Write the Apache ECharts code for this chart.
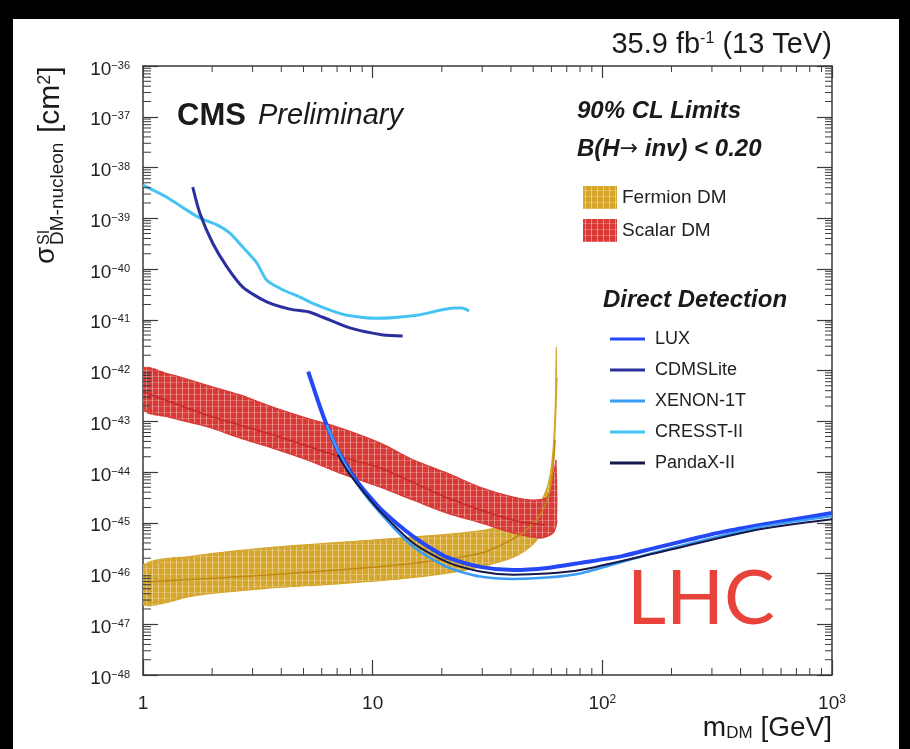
<!DOCTYPE html>
<html>
<head>
<meta charset="utf-8">
<script src="https://cdn.jsdelivr.net/npm/echarts@6.0.0/dist/echarts.min.js"></script>
<style>
html, body { margin: 0; padding: 0; background: #000; }
#main { width: 910px; height: 749px; }
</style>
</head>
<body>
<div id="main"></div>
<script>
var FONT = '"Liberation Sans", Arial, sans-serif';

// axis tick labels
var xTicks = [1, 10, 100, 1000];
var xTickLabels = ['1', '10', '10{s|2}', '10{s|3}'];
var yDecades = [-48, -47, -46, -45, -44, -43, -42, -41, -40, -39, -38, -37, -36];

// Scalar DM band (red)
var scalarUpM = [1.0, 1.35, 1.9, 2.64, 3.67, 5.16, 7.2, 10.8, 15.0, 21.1, 29.4, 40.9, 50.0, 57.5, 60.5, 63.0];
var scalarUpS = [1.12e-42, 8.1e-43, 5.1e-43, 3.3e-43, 1.9e-43, 1.15e-43, 7.4e-44, 3.7e-44, 1.74e-44, 9.5e-45, 5.0e-45, 3.2e-45, 2.8e-45, 3.2e-45, 6.9e-45, 1.74e-44];
var scalarLoM = [1.0, 1.35, 1.9, 2.64, 3.67, 5.16, 7.2, 10.8, 15.0, 21.1, 29.4, 40.9, 53.6, 61.1, 63.5];
var scalarLoS = [1.66e-43, 1.15e-43, 7.8e-44, 4.7e-44, 2.95e-44, 1.74e-44, 9.5e-45, 5.0e-45, 2.8e-45, 1.55e-45, 1.0e-45, 6.3e-46, 5.0e-46, 6.3e-46, 1.12e-45];
var scalarMidM = [1.0, 1.9, 3.67, 7.2, 10.8, 21.1, 40.9, 56.0];
var scalarMidS = [3.8e-43, 1.32e-43, 5.4e-44, 2.0e-44, 1.2e-44, 3.1e-45, 1.12e-45, 9.1e-46];

// Fermion DM band (gold)
var fermionUpM = [1.0, 1.77, 3.46, 6.73, 13.1, 24.8, 34.8, 43.8, 52.0, 57.5, 60.5, 62.3, 63.0];
var fermionUpS = [1.48e-46, 2.3e-46, 3.2e-46, 4.0e-46, 5.0e-46, 6.3e-46, 7.9e-46, 1.12e-45, 2.0e-45, 5.0e-45, 1.74e-44, 1.66e-43, 2.9e-42];
var fermionLoM = [1.0, 1.77, 3.46, 6.73, 13.1, 21.1, 29.4, 40.9, 50.0, 55.2, 59.3, 62.3, 63.5];
var fermionLoS = [2.4e-47, 3.8e-47, 5.1e-47, 6.2e-47, 7.8e-47, 1.02e-46, 1.35e-46, 2.1e-46, 3.8e-46, 7.9e-46, 2.24e-45, 6.8e-44, 7.4e-43];
var fermionMidM = [1.0, 3.46, 13.1, 29.4, 43.8, 53.6, 59.3, 62.3];
var fermionMidS = [6.8e-47, 9.3e-47, 1.48e-46, 2.5e-46, 5.8e-46, 1.41e-45, 4.5e-45, 4.3e-44];

// direct detection limits
var luxM = [5.24, 5.51, 5.79, 6.11, 6.52, 6.97, 7.45, 8.1, 8.81, 9.73, 10.8, 12.7, 15.0, 17.8, 21.0, 29.4, 40.9, 57.5, 80.2, 122, 170, 237, 334, 465, 647, 1000];
var luxS = [9.5e-43, 4.8e-43, 2.45e-43, 1.23e-43, 5.8e-44, 2.95e-44, 1.74e-44, 9.3e-45, 5.5e-45, 3.2e-45, 1.9e-45, 9.8e-46, 5.4e-46, 3.2e-46, 2.1e-46, 1.35e-46, 1.17e-46, 1.29e-46, 1.62e-46, 2.2e-46, 3.2e-46, 4.6e-46, 6.6e-46, 8.7e-46, 1.12e-45, 1.55e-45];
var cdmsM = [1.647, 1.767, 2.01, 2.32, 2.72, 3.46, 4.36, 5.33, 6.07, 7.96, 11.1, 13.5];
var cdmsS = [4.1e-39, 1.27e-39, 3.25e-40, 1.1e-40, 4.4e-41, 2.24e-41, 1.62e-41, 1.41e-41, 1.12e-41, 6.9e-42, 5.0e-42, 4.8e-42];
var xenonM = [6.3, 7.2, 8.51, 10.8, 15.0, 21.0, 29.4, 41.0, 57.4, 80.1, 170, 465, 1000];
var xenonS = [8.5e-44, 2.2e-44, 6.0e-45, 1.55e-45, 3.4e-46, 1.35e-46, 8.7e-47, 7.8e-47, 8.3e-47, 1.0e-46, 2.6e-46, 7.9e-46, 1.35e-45];
var cresstM = [1.0, 1.27, 1.55, 1.77, 2.1, 2.39, 2.72, 3.13, 3.46, 4.06, 4.82, 5.49, 6.52, 7.72, 10.4, 15.6, 22.8, 24.5, 26.3];
var cresstS = [4.5e-39, 2.6e-39, 1.45e-39, 1.01e-39, 7.4e-40, 5.1e-40, 2.7e-40, 1.32e-40, 6.0e-41, 3.9e-41, 2.8e-41, 2.1e-41, 1.55e-41, 1.23e-41, 1.07e-41, 1.23e-41, 1.7e-41, 1.7e-41, 1.48e-41];
var pandaM = [7.06, 7.71, 9.1, 10.8, 15.0, 21.0, 29.4, 41.0, 57.4, 80.1, 170, 465, 1000];
var pandaS = [2.2e-44, 1.1e-44, 4.1e-45, 1.66e-45, 4.0e-46, 1.7e-46, 1.1e-46, 9.5e-47, 1.0e-46, 1.17e-46, 2.5e-46, 7.2e-46, 1.17e-45];

var RED = '#d93a36';
var GOLD = '#d6a62a';
var LOG10 = Math.LN10;

// hatched fill like the ROOT band
function hatch(color) {
	var c = document.createElement('canvas');
	c.width = 6;
	c.height = 6;
	var ctx = c.getContext('2d');
	ctx.fillStyle = color;
	ctx.fillRect(0, 0, 6, 6);
	ctx.fillStyle = 'rgba(255,255,255,0.38)';
	ctx.fillRect(2, 0, 1, 6);
	ctx.fillStyle = 'rgba(255,255,255,0.22)';
	ctx.fillRect(0, 4, 6, 1);
	return { image: c, repeat: 'repeat' };
}

// y axis is linear in log10(sigma); the cross sections span 1e-48..1e-36
function pairs(m, s) {
	var d = [];
	for (var i = 0; i < m.length; i++) d.push([m[i], Math.log(s[i]) / LOG10]);
	return d;
}

function bandSeries(name, upM, upS, loM, loS, color, z) {
	var up = pairs(upM, upS);
	var lo = pairs(loM, loS);
	var pts = up.concat(lo.slice().reverse());
	var fill = hatch(color);
	return {
		name: name,
		type: 'custom',
		silent: true,
		clip: true,
		z: z,
		itemStyle: { color: fill },
		data: pts,
		encode: { x: 0, y: 1 },
		renderItem: function(params, api) {
			if (params.dataIndex !== 0) return null;
			var top = up.map(function(p) { return api.coord(p); });
			var bot = lo.map(function(p) { return api.coord(p); });
			return {
				type: 'group',
				children: [{
					type: 'polygon',
					shape: { points: top.concat(bot.slice().reverse()), smooth: 0.3, smoothConstraint: false },
					style: { fill: fill, stroke: null }
				}, {
					type: 'polyline',
					shape: { points: top, smooth: 0.3 },
					style: { fill: null, stroke: color, lineWidth: 1.2 }
				}, {
					type: 'polyline',
					shape: { points: bot, smooth: 0.3 },
					style: { fill: null, stroke: color, lineWidth: 1.2 }
				}]
			};
		}
	};
}

function lineSeries(name, m, s, color, width, z) {
	return {
		name: name,
		type: 'line',
		silent: true,
		symbol: 'none',
		showSymbol: false,
		smooth: 0.25,
		z: z,
		data: pairs(m, s),
		itemStyle: { color: color },
		lineStyle: { color: color, width: width }
	};
}

var series = [
	bandSeries('Fermion DM', fermionUpM, fermionUpS, fermionLoM, fermionLoS, GOLD, 2),
	bandSeries('Scalar DM', scalarUpM, scalarUpS, scalarLoM, scalarLoS, RED, 3),
	lineSeries('fermionMid', fermionMidM, fermionMidS, '#c08a12', 1.5, 3),
	lineSeries('scalarMid', scalarMidM, scalarMidS, '#c52a28', 1.5, 4),
	lineSeries('CRESST-II', cresstM, cresstS, '#45c4f2', 3, 5),
	lineSeries('CDMSLite', cdmsM, cdmsS, '#2b2f9e', 3, 5),
	lineSeries('LUX', luxM, luxS, '#2448f5', 4, 5),
	lineSeries('XENON-1T', xenonM, xenonS, '#3a9cf5', 2.5, 6),
	lineSeries('PandaX-II', pandaM, pandaS, '#14184a', 2, 7)
];

var AXC = '#3a3a3a';
var axisLine = { show: true, lineStyle: { color: AXC, width: 1.5 } };
var supRich = { s: { fontSize: 12, fontFamily: FONT, color: '#222', verticalAlign: 'top', lineHeight: 12 } };

var myChart = echarts.init(document.getElementById('main'));
var option = {
	animation: false,
	backgroundColor: '#000',
	grid: { left: 143, right: 78, top: 66, bottom: 74 },
	legend: [{
		left: 583,
		top: 186,
		orient: 'vertical',
		padding: 0,
		itemWidth: 34,
		itemHeight: 23,
		itemGap: 10,
		selectedMode: false,
		icon: 'rect',
		data: ['Fermion DM', 'Scalar DM'],
		textStyle: { fontFamily: FONT, fontSize: 19, color: '#222' }
	}, {
		left: 610,
		top: 330,
		orient: 'vertical',
		padding: 0,
		itemWidth: 35,
		itemHeight: 3,
		itemGap: 13,
		selectedMode: false,
		icon: 'rect',
		data: ['LUX', 'CDMSLite', 'XENON-1T', 'CRESST-II', 'PandaX-II'],
		textStyle: { fontFamily: FONT, fontSize: 18, color: '#222', padding: [0, 0, 0, 5] }
	}],
	xAxis: [{
		type: 'log',
		logBase: 10,
		min: 1,
		max: 1000,
		splitNumber: 3,
		axisLine: axisLine,
		axisTick: { inside: true, length: 15, lineStyle: { color: AXC, width: 1.2 } },
		splitLine: { show: false },
		axisLabel: {
			margin: 19,
			color: '#222',
			fontFamily: FONT,
			fontSize: 19,
			formatter: function(v) {
				var i = xTicks.indexOf(Math.round(v));
				return i < 0 ? '' : xTickLabels[i];
			},
			rich: supRich
		}
	}, {
		type: 'log',
		logBase: 10,
		position: 'top',
		min: 1,
		max: 1000,
		splitNumber: 3,
		axisLine: axisLine,
		axisTick: { inside: true, length: 12, lineStyle: { color: AXC, width: 1.2 } },
		splitLine: { show: false },
		axisLabel: { show: false }
	}],
	yAxis: [{
		type: 'value',
		min: yDecades[0],
		max: yDecades[yDecades.length - 1],
		interval: 1,
		axisLine: axisLine,
		axisTick: { inside: true, length: 15, lineStyle: { color: AXC, width: 1.2 } },
		splitLine: { show: false },
		axisLabel: {
			margin: 13,
			padding: [7, 0, 0, 0],
			color: '#222',
			fontFamily: FONT,
			fontSize: 19,
			formatter: function(v) {
				return '10{s|\u2212' + Math.abs(Math.round(v)) + '}';
			},
			rich: { s: { fontSize: 11, fontFamily: FONT, color: '#222', verticalAlign: 'top', lineHeight: 11 } }
		}
	}, {
		type: 'value',
		position: 'right',
		min: yDecades[0],
		max: yDecades[yDecades.length - 1],
		interval: 1,
		axisLine: axisLine,
		axisTick: { inside: true, length: 15, lineStyle: { color: AXC, width: 1.2 } },
		splitLine: { show: false },
		axisLabel: { show: false }
	}],
	series: series
};
myChart.setOption(option);

// minor log ticks and the texts
var gfx = [{
	type: 'rect',
	z: -100,
	shape: { x: 13, y: 19, width: 886, height: 731 },
	style: { fill: '#fff' }
}];
var xa = function(v) { return myChart.convertToPixel({ xAxisIndex: 0 }, v); };
var ya = function(v) { return myChart.convertToPixel({ yAxisIndex: 0 }, v); };
var gx0 = xa(1), gx1 = xa(1000), gy0 = ya(-36), gy1 = ya(-48);
var tickStyle = { stroke: AXC, lineWidth: 1 };
for (var d = 0; d < 3; d++) {
	for (var k = 2; k < 10; k++) {
		var px = xa(k * Math.pow(10, d));
		gfx.push({ type: 'line', z: 50, shape: { x1: px, y1: gy1, x2: px, y2: gy1 - 7 }, style: tickStyle });
		gfx.push({ type: 'line', z: 50, shape: { x1: px, y1: gy0, x2: px, y2: gy0 + 6 }, style: tickStyle });
	}
}
for (var e = 0; e < yDecades.length - 1; e++) {
	for (var k2 = 2; k2 < 10; k2++) {
		var py = ya(yDecades[e] + Math.log(k2) / LOG10);
		gfx.push({ type: 'line', z: 50, shape: { x1: gx0, y1: py, x2: gx0 + 8, y2: py }, style: tickStyle });
		gfx.push({ type: 'line', z: 50, shape: { x1: gx1, y1: py, x2: gx1 - 7, y2: py }, style: tickStyle });
	}
}

function txt(x, y, text, font, align, extra) {
	var st = { text: text, x: x, y: y, font: font, fill: '#1a1a1a', align: align || 'left', verticalAlign: 'middle' };
	if (extra) for (var key in extra) st[key] = extra[key];
	return { type: 'text', z: 100, style: st };
}

gfx.push(txt(832, 45, '35.9 fb{s|-1} (13 TeV)', '29px ' + FONT, 'right', {
	rich: { s: { font: '16px ' + FONT, fill: '#1a1a1a', verticalAlign: 'top', lineHeight: 12 } }
}));
gfx.push(txt(177, 116, 'CMS', 'bold 31px ' + FONT));
gfx.push(txt(258, 116, 'Preliminary', 'italic 29px ' + FONT));
gfx.push(txt(577, 111, '90% CL Limits', 'italic bold 24px ' + FONT));
gfx.push(txt(577, 149, 'B(H{a|\u2192} inv) < 0.20', 'italic bold 24px ' + FONT, 'left', {
	rich: { a: { font: '22px "DejaVu Sans", sans-serif', fill: '#1a1a1a' } }
}));
gfx.push(txt(603, 300, 'Direct Detection', 'italic bold 24px ' + FONT));
gfx.push(txt(627, 599, 'LHC', '76px Lato, "Open Sans", sans-serif', 'left', { fill: '#e8433a' }));
gfx.push(txt(832, 728, 'm{d|DM} [GeV]', '28px ' + FONT, 'right', {
	rich: { d: { font: '17px ' + FONT, fill: '#1a1a1a', verticalAlign: 'bottom', lineHeight: 8 } }
}));

// rotated y title
gfx.push({
	type: 'group',
	x: 50,
	y: 264,
	rotation: Math.PI / 2,
	z: 100,
	children: [
		{ type: 'text', z: 100, style: { text: '\u03c3', x: 0, y: -4, font: '28px ' + FONT, fill: '#1a1a1a', verticalAlign: 'middle' } },
		{ type: 'text', z: 100, style: { text: 'SI', x: 19, y: -5, font: '16px ' + FONT, fill: '#1a1a1a', verticalAlign: 'middle' } },
		{ type: 'text', z: 100, style: { text: 'DM-nucleon', x: 19, y: 8, font: '19px ' + FONT, fill: '#1a1a1a', verticalAlign: 'middle' } },
		{ type: 'text', z: 100, style: { text: '[cm{s|2}]', x: 131, y: 1, font: '30px ' + FONT, fill: '#1a1a1a', verticalAlign: 'middle',
			rich: { s: { font: '18px ' + FONT, fill: '#1a1a1a', verticalAlign: 'top', lineHeight: 14 } } } }
	]
});

myChart.setOption({ graphic: gfx });
</script>
</body>
</html>
